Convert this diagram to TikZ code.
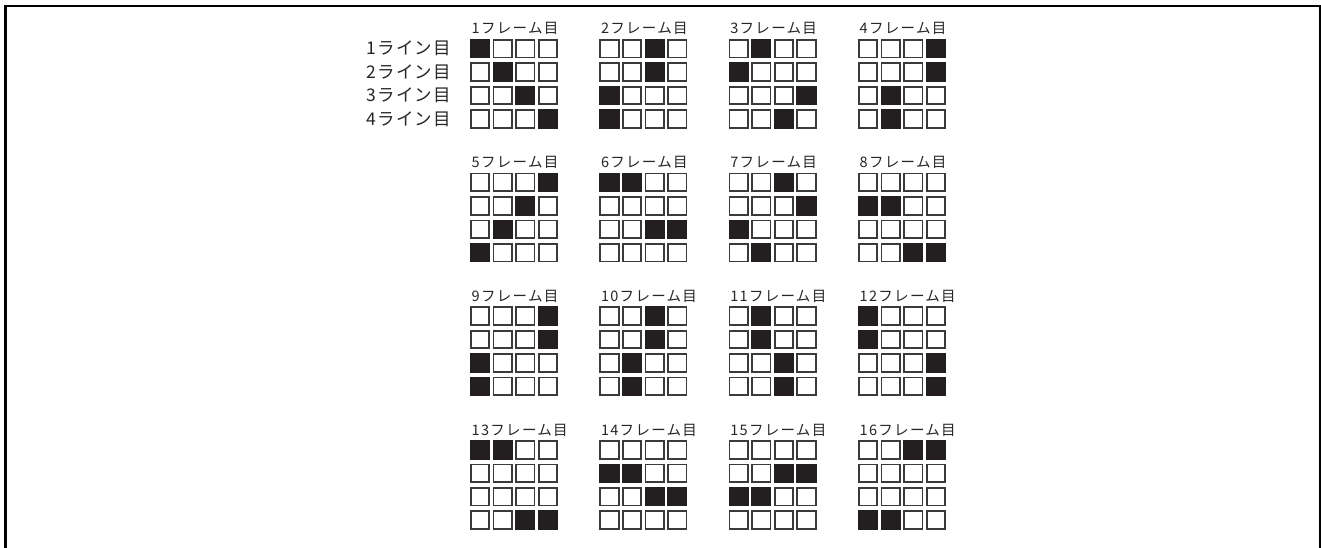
\documentclass[tikz,border=0pt]{standalone}
\usepackage{fontspec}
\newfontfamily\jpf{Noto Sans CJK JP}[LetterSpace=9]
\newfontfamily\jpr{Noto Sans CJK JP}[LetterSpace=6]
\definecolor{cellline}{HTML}{3A3A3A}
\definecolor{cellfill}{HTML}{231F20}
\tikzset{
  cellbox/.style={draw=cellline,line width=1.8pt,inner sep=0pt,minimum width=18.4pt,minimum height=17.6pt,fill=white},
  cellon/.style={cellbox,fill=cellfill,draw=cellfill},
  flabel/.style={font=\jpf\fontsize{14.5}{16}\selectfont,inner sep=0pt,anchor=base west,text=black!85},
  rlabel/.style={font=\jpr\fontsize{17.5}{19}\selectfont,inner sep=0pt,anchor=east,text=black!85},
}
\newcommand{\drawframe}[4]{%
  \node[flabel] (lab#1) at (#2+1.5,#3-5) {#1フレーム目};
  \foreach \r in {1,...,4}{
    \foreach \c in {1,...,4}{
      \node[cellbox] (f#1-\r-\c) at ({#2+22.6*(\c-1)+10.15},{#3+23.4*(\r-1)+9.7}) {};
    }
  }
  \foreach \r/\c in {#4}{
    \node[cellon] at (f#1-\r-\c) {};
  }
}
\begin{document}
\begin{tikzpicture}[x=1pt,y=-1pt]
\useasboundingbox (0,0) rectangle (1321,548);
\draw[line width=2.4pt] (5.3,552) -- (5.3,6.2) -- (1320.3,6.2) -- (1320.3,552);
% frames
\drawframe{1}{470}{39}{1/1,2/2,3/3,4/4}
\drawframe{2}{599.3}{39}{1/3,2/3,3/1,4/1}
\drawframe{3}{728.6}{39}{1/2,2/1,3/4,4/3}
\drawframe{4}{858}{39}{1/4,2/4,3/2,4/2}
\drawframe{5}{470}{172.7}{1/4,2/3,3/2,4/1}
\drawframe{6}{599.3}{172.7}{1/1,1/2,3/3,3/4}
\drawframe{7}{728.6}{172.7}{1/3,2/4,3/1,4/2}
\drawframe{8}{858}{172.7}{2/1,2/2,4/3,4/4}
\drawframe{9}{470}{306.4}{1/4,2/4,3/1,4/1}
\drawframe{10}{599.3}{306.4}{1/3,2/3,3/2,4/2}
\drawframe{11}{728.6}{306.4}{1/2,2/2,3/3,4/3}
\drawframe{12}{858}{306.4}{1/1,2/1,3/4,4/4}
\drawframe{13}{470}{440.1}{1/1,1/2,4/3,4/4}
\drawframe{14}{599.3}{440.1}{2/1,2/2,3/3,3/4}
\drawframe{15}{728.6}{440.1}{2/3,2/4,3/1,3/2}
\drawframe{16}{858}{440.1}{1/3,1/4,4/1,4/2}
% row labels
\node[rlabel] (r1) at (451,48.7) {1ライン目};
\node[rlabel] (r2) at (451,72.1) {2ライン目};
\node[rlabel] (r3) at (451,95.5) {3ライン目};
\node[rlabel] (r4) at (451,118.9) {4ライン目};
\end{tikzpicture}
\end{document}
